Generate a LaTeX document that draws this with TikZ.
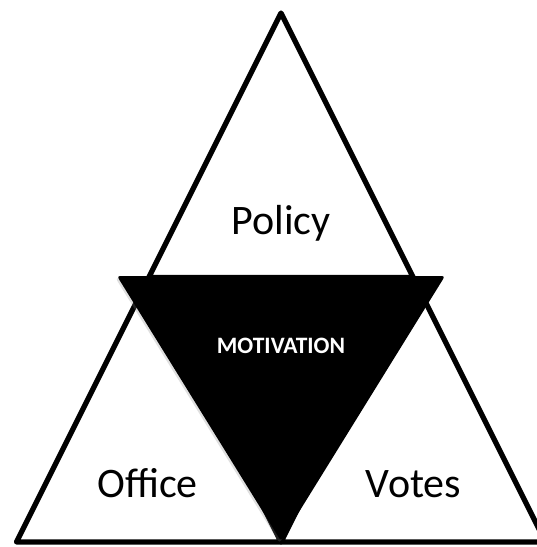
\documentclass[tikz,border=0pt]{standalone}
\usepackage{fontspec}
\setmainfont{Carlito}
\usepackage{tikz}
\usetikzlibrary{shadows}

\begin{document}
\begin{tikzpicture}[line cap=round,line join=round,x=1pt,y=-1pt]
        \useasboundingbox (0,0) rectangle (537,547);
        \clip (0,0) rectangle (537,547);
        \tikzset{
          corner/.style={draw=black,fill=white,line width=5.2pt},
          label/.style={font=\fontsize{42}{48}\selectfont,anchor=base}
        }
        % outer corners and midpoints
        \coordinate (apex) at (281,13);
        \coordinate (lft) at (16.5,542);
        \coordinate (rgt) at (545.5,542);
        \coordinate (midl) at (148.75,277.5);
        \coordinate (midr) at (413.25,277.5);
        \coordinate (midb) at (281,542);
        \draw [corner] (apex) -- (midl) -- (midr) -- cycle;
        \draw [corner] (midl) -- (lft) -- (midb) -- cycle;
        \draw [corner] (midr) -- (midb) -- (rgt) -- cycle;
        % the black one in the middle
        \fill [black,rounded corners=3pt,drop shadow={shadow xshift=-1.5pt,shadow yshift=-2pt,opacity=0.25}]
              (117,276) -- (445,276) -- (281,541) -- cycle;
        \node [label] (policy) at (281,234) {Policy};
        \node [label] (office) at (147.5,497) {Office};
        \node [label] (votes) at (413.5,497) {Votes};
        \node [anchor=base,text=white,font=\bfseries\fontsize{23.5}{28}\selectfont] (motiv) at (281,353) {MOTIVATION};
    \end{tikzpicture}
\end{document}
